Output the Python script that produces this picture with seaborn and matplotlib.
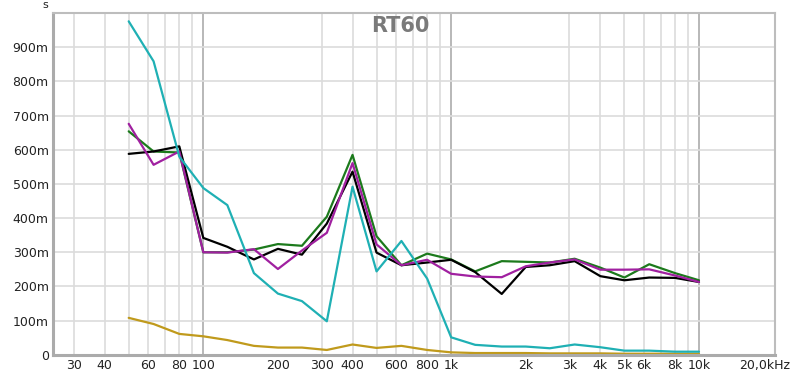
import numpy as np
import pandas as pd
import matplotlib
matplotlib.use("Agg")
import matplotlib.pyplot as plt
import matplotlib.transforms as mtransforms
import seaborn as sns

# 1/3 octave band centres (Hz)
freqs = [50, 63, 80, 100, 125, 160, 200, 250, 315, 400, 500, 630, 800,
         1000, 1250, 1600, 2000, 2500, 3150, 4000, 5000, 6300, 8000, 10000]

# RT60 values (s)
rt_cyan = [0.976, 0.859, 0.580, 0.488, 0.438, 0.239, 0.179, 0.157, 0.098, 0.492,
           0.244, 0.333, 0.223, 0.051, 0.029, 0.024, 0.024, 0.019, 0.030, 0.022,
           0.012, 0.012, 0.009, 0.009]
rt_gold = [0.108, 0.090, 0.061, 0.054, 0.043, 0.026, 0.021, 0.021, 0.014, 0.030,
           0.020, 0.026, 0.014, 0.007, 0.005, 0.005, 0.005, 0.004, 0.004, 0.004,
           0.003, 0.003, 0.003, 0.003]
rt_green = [0.654, 0.595, 0.592, 0.300, 0.300, 0.308, 0.324, 0.319, 0.404, 0.585,
            0.347, 0.262, 0.296, 0.279, 0.244, 0.274, 0.272, 0.270, 0.281, 0.255,
            0.226, 0.265, 0.239, 0.218]
rt_black = [0.588, 0.595, 0.610, 0.342, 0.316, 0.279, 0.310, 0.293, 0.384, 0.536,
            0.299, 0.262, 0.270, 0.278, 0.242, 0.178, 0.257, 0.262, 0.274, 0.230,
            0.218, 0.226, 0.225, 0.213]
rt_purple = [0.676, 0.556, 0.595, 0.300, 0.299, 0.309, 0.251, 0.305, 0.357, 0.561,
             0.323, 0.262, 0.278, 0.237, 0.229, 0.227, 0.259, 0.270, 0.279, 0.249,
             0.249, 0.250, 0.232, 0.213]

series_names = ["gold", "green", "black", "purple", "cyan"]
series_values = [rt_gold, rt_green, rt_black, rt_purple, rt_cyan]
colors = {"gold": "#c09a1c", "green": "#1c7a1c", "black": "#000000",
          "purple": "#a020a0", "cyan": "#1fb0b4"}

xtick_pos = [30, 40, 60, 80, 100, 200, 300, 400, 600, 800, 1000, 2000, 3000,
             4000, 5000, 6000, 8000, 10000, 20000]
xtick_labels = ["30", "40", "60", "80", "100", "200", "300", "400", "600", "800",
                "1k", "2k", "3k", "4k", "5k", "6k", "8k", "10k", "20,0kHz"]
ytick_pos = [0, 0.1, 0.2, 0.3, 0.4, 0.5, 0.6, 0.7, 0.8, 0.9]
ytick_labels = ["0", "100m", "200m", "300m", "400m", "500m", "600m", "700m",
                "800m", "900m"]

# long format table for seaborn
df = pd.concat([pd.DataFrame({"freq": freqs, "rt60": v, "series": n})
                for n, v in zip(series_names, series_values)], ignore_index=True)

sns.set_style("white")
plt.rcParams["font.family"] = ["DejaVu Sans"]

fig = plt.figure(figsize=(8, 3.75), dpi=100)
ax = fig.add_axes([0.066, 0.054, 0.903, 0.911])

# grid
minor_grid = [f * m for m in (10, 100, 1000) for f in range(3, 10) if f * m > 24]
minor_grid = [g for g in minor_grid if g not in (100, 1000, 10000)]
ax.set_xscale("log")
for g in minor_grid:
    ax.axvline(g, color="#dcdcdc", lw=1.2, zorder=0)
for g in (100, 1000, 10000):
    ax.axvline(g, color="#b8b8b8", lw=1.4, zorder=0)
for y in ytick_pos[1:]:
    ax.axhline(y, color="#dcdcdc", lw=1.2, zorder=0)

sns.lineplot(data=df, x="freq", y="rt60", hue="series", palette=colors,
             hue_order=series_names, linewidth=1.6, legend=False, ax=ax,
             estimator=None, sort=False)

ax.set_xlim(24.7, 20300)
ax.set_ylim(0, 1.0)
ax.set_xticks(xtick_pos)
ax.set_xticklabels(xtick_labels)
ax.xaxis.set_minor_locator(matplotlib.ticker.NullLocator())
ax.set_yticks(ytick_pos)
ax.set_yticklabels(ytick_labels)
ax.tick_params(axis="both", length=0, labelsize=9, colors="#222222", pad=3)
ax.set_xlabel("")
ax.set_ylabel("")

# last label sits a little left of its tick, like the original
last = ax.get_xticklabels()[-1]
last.set_transform(last.get_transform() +
                   mtransforms.ScaledTranslation(-9 / 100, 0, fig.dpi_scale_trans))

for side in ("top", "right"):
    ax.spines[side].set_color("#bdbdbd")
    ax.spines[side].set_linewidth(1.5)
for side in ("left", "bottom"):
    ax.spines[side].set_color("#ababab")
    ax.spines[side].set_linewidth(2.2)

ax.text(0.481, 0.962, "RT60", transform=ax.transAxes, ha="center", va="center",
        fontsize=15, fontweight="bold", color="#7a7a7a")
fig.text(0.056, 0.986, "s", ha="center", va="center", fontsize=8, color="#222222")

fig.savefig("out.png", dpi=100)
